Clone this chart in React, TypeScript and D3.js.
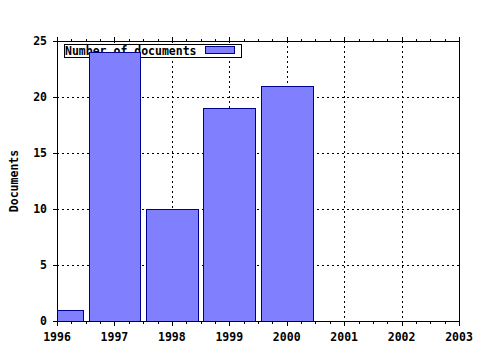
import React from "react";
import * as d3 from "d3";

const years = [1996, 1997, 1998, 1999, 2000];
const documents = [1, 24, 10, 19, 21];
const xTickValues = [1996, 1997, 1998, 1999, 2000, 2001, 2002, 2003];
const yTickValues = [0, 5, 10, 15, 20, 25];
const seriesName = "Number of documents";
const yAxisTitle = "Documents";

export default function App() {
  const W = 480, H = 350;
  const L = 57, R = 459, T = 41, B = 321;
  const x = d3.scaleLinear().domain([1996, 2003]).range([L, R]);
  const y = d3.scaleLinear().domain([0, 25]).range([B, T]);
  const barW = 0.9;
  const font = "'DejaVu Sans Mono', monospace";
  const fs = 11.5;
  const minorTicks = d3.range(1996, 2003.001, 0.25).filter((v) => Math.abs(v - Math.round(v)) > 1e-6);
  const fill = "#8080ff";
  const stroke = "#000090";
  return (
    <svg width={W} height={H} style={{ position: "absolute", left: 0, top: 0, background: "#fff" }}>
      <defs>
        <clipPath id="plotclip">
          <rect x={L} y={T} width={R - L} height={B - T} />
        </clipPath>
      </defs>
      <rect x={0} y={0} width={W} height={H} fill="#fff" />
      {/* grid */}
      <g stroke="#000" strokeWidth={1} strokeDasharray="2,3" shapeRendering="crispEdges">
        {yTickValues.filter((v) => v > 0 && v < 25).map((v) => (
          <line key={"gy" + v} x1={L} x2={R} y1={Math.round(y(v)) + 0.5} y2={Math.round(y(v)) + 0.5} />
        ))}
        {xTickValues.filter((v) => v > 1996 && v < 2003).map((v) => (
          <line key={"gx" + v} y1={T} y2={B} x1={Math.round(x(v)) + 0.5} x2={Math.round(x(v)) + 0.5} />
        ))}
      </g>
      {/* legend */}
      <g>
        <rect x={64.5} y={44.5} width={177} height={13} fill="#fff" stroke="#000" strokeWidth={1} shapeRendering="crispEdges" />
        <text x={65} y={55} fontFamily={font} fontWeight="bold" fontSize={fs} fill="#000">{seriesName}</text>
        <rect x={205.5} y={46.5} width={29} height={7} fill={fill} stroke={stroke} strokeWidth={1} shapeRendering="crispEdges" />
      </g>
      {/* bars */}
      <g clipPath="url(#plotclip)">
        {years.map((yr, i) => {
          const x0 = Math.round(x(yr - barW / 2)) + 0.5;
          const x1 = Math.round(x(yr + barW / 2)) + 0.5;
          const y0 = Math.round(y(documents[i])) + 0.5;
          return (
            <rect key={yr} x={x0} y={y0} width={x1 - x0} height={B - y0 + 0.5} fill={fill} stroke={stroke} strokeWidth={1} shapeRendering="crispEdges" />
          );
        })}
      </g>
      {/* border */}
      <rect x={L + 0.5} y={T + 0.5} width={R - L} height={B - T} fill="none" stroke="#000" strokeWidth={1} shapeRendering="crispEdges" />
      {/* ticks */}
      <g stroke="#000" shapeRendering="crispEdges">
        {yTickValues.map((v) => (
          <line key={"yt" + v} x1={L - 4} x2={L} y1={Math.round(y(v)) + 0.5} y2={Math.round(y(v)) + 0.5} />
        ))}
        {xTickValues.map((v) => (
          <g key={"xt" + v}>
            <line x1={Math.round(x(v)) + 0.5} x2={Math.round(x(v)) + 0.5} y1={B} y2={B + 5} />
            <line x1={Math.round(x(v)) + 0.5} x2={Math.round(x(v)) + 0.5} y1={T + 1} y2={T - 4} />
          </g>
        ))}
        {minorTicks.map((v) => (
          <g key={"mt" + v}>
            <line x1={Math.round(x(v)) + 0.5} x2={Math.round(x(v)) + 0.5} y1={B} y2={B + 3} />
            <line x1={Math.round(x(v)) + 0.5} x2={Math.round(x(v)) + 0.5} y1={T + 1} y2={T - 2} />
          </g>
        ))}
      </g>
      {/* tick labels */}
      <g fontFamily={font} fontWeight="bold" fontSize={fs} fill="#000">
        {yTickValues.map((v) => (
          <text key={"yl" + v} x={47} y={y(v) + 4} textAnchor="end">{v}</text>
        ))}
        {xTickValues.map((v) => (
          <text key={"xl" + v} x={x(v)} y={341} textAnchor="middle">{v}</text>
        ))}
        <text transform={`translate(18,181) rotate(-90)`} textAnchor="middle">{yAxisTitle}</text>
      </g>
    </svg>
  );
}
